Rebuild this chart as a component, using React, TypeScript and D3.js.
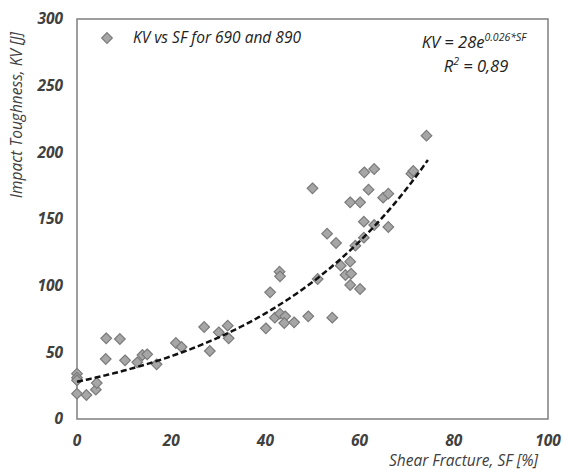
import React from "react";
import * as d3 from "d3";

// shear fracture SF [%] and impact toughness KV [J]
const sfValues = [0, 0, 0, 0, 2, 4, 4.2, 6.2, 9.1, 6.1, 10.2, 12.8, 13.9, 14.9, 16.9, 21, 22.2, 27, 28.2, 30.1, 32, 32.2,
  40.1, 41, 42, 43.1, 44.2, 44, 46.1, 49.1, 43, 43.1, 51.1, 50, 54.2, 53.1, 55, 56, 57, 58, 58.2, 58, 60.1, 59.1,
  58, 60.1, 60.9, 60.9, 63.1, 61.9, 61, 63.1, 65, 66.1, 66.1, 71, 71.4, 74.2];
const kvValues = [34, 31, 29, 19, 18, 22, 27, 60.5, 60, 45, 44, 42.5, 48, 48.5, 41, 57, 54, 69, 51, 65, 70, 60.5,
  68, 95, 76, 79, 77, 72, 72.5, 77, 110.5, 107, 105, 173, 76, 139, 132, 115, 108, 118, 109, 100.5, 97.5, 130,
  162.5, 162.5, 148, 136, 145.5, 172, 185, 187.5, 166, 169, 144, 184, 186, 212.5];

const xTicks = [0, 20, 40, 60, 80, 100];
const yTicks = [0, 50, 100, 150, 200, 250, 300];

// fitted trend KV = 28 e^(0.026 SF)
const fitA = 28;
const fitB = 0.026;
const fitRange = [0, 74.5];

const font = "'Open Sans', sans-serif";

export default function App() {
  const width = 563;
  const height = 472;
  const margin = { left: 77, right: 15, top: 19, bottom: 53 };

  const x = d3.scaleLinear().domain([0, 100]).range([margin.left, width - margin.right]);
  const y = d3.scaleLinear().domain([0, 300]).range([height - margin.bottom, margin.top]);

  const points = sfValues.map((sf, i) => ({ sf, kv: kvValues[i] }));
  const fitPts = d3.range(fitRange[0], fitRange[1] + 0.01, 0.5).map(s => [s, fitA * Math.exp(fitB * s)]);
  const line = d3.line<number[]>().x(d => x(d[0])).y(d => y(d[1]));

  const diamond = d3.symbol().type(d3.symbolDiamond2).size(72)();

  return (
    <svg width={width} height={height} style={{ position: "absolute", left: 0, top: 0, background: "#fff" }}
      fontFamily={font}>
      <rect x={margin.left} y={margin.top} width={x(100) - x(0)} height={y(0) - y(300)}
        fill="none" stroke="#7f7f7f" strokeWidth={1.5} />

      {yTicks.map(t => (
        <text key={"y" + t} x={63} y={y(t)} dy="0.35em" textAnchor="end" fontSize={15.5}
          fontWeight="bold" fontStyle="italic" fill="#404040">{t}</text>
      ))}
      {xTicks.map(t => (
        <text key={"x" + t} x={x(t)} y={441} dy="0.35em" textAnchor="middle" fontSize={15.5}
          fontWeight="bold" fontStyle="italic" fill="#404040">{t}</text>
      ))}

      <text x={538} y={461} dy="0.35em" textAnchor="end" fontSize={15.5} fontStyle="italic" fill="#404040">
        Shear Fracture, SF [%]
      </text>
      <text transform={`translate(17,${115}) rotate(-90)`} dy="0.35em" textAnchor="middle" fontSize={15.5}
        fontStyle="italic" fill="#404040">Impact Toughness, KV [J]</text>

      {points.map((p, i) => (
        <path key={i} d={diamond} transform={`translate(${x(p.sf)},${y(p.kv)})`}
          fill="#a6a6a6" stroke="#7a7a7a" strokeWidth={1.2} />
      ))}

      <path d={line(fitPts) ?? ""} fill="none" stroke="#111" strokeWidth={2.5} strokeDasharray="6,3" />

      {/* legend */}
      <path d={diamond} transform="translate(107,38)" fill="#a6a6a6" stroke="#7a7a7a" strokeWidth={1.2} />
      <text x={133} y={38} dy="0.35em" fontSize={15.5} fontStyle="italic" fill="#222">KV vs SF for 690 and 890</text>

      <text x={474} y={48} textAnchor="middle" fontSize={16.5} fontStyle="italic" fill="#222">
        KV = 28e<tspan dy={-7} fontSize={10.5}>0.026*SF</tspan>
      </text>
      <text x={476} y={72} textAnchor="middle" fontSize={16.5} fontStyle="italic" fill="#222">
        R<tspan dy={-7} fontSize={10.5}>2</tspan><tspan dy={7}> = 0,89</tspan>
      </text>
    </svg>
  );
}
